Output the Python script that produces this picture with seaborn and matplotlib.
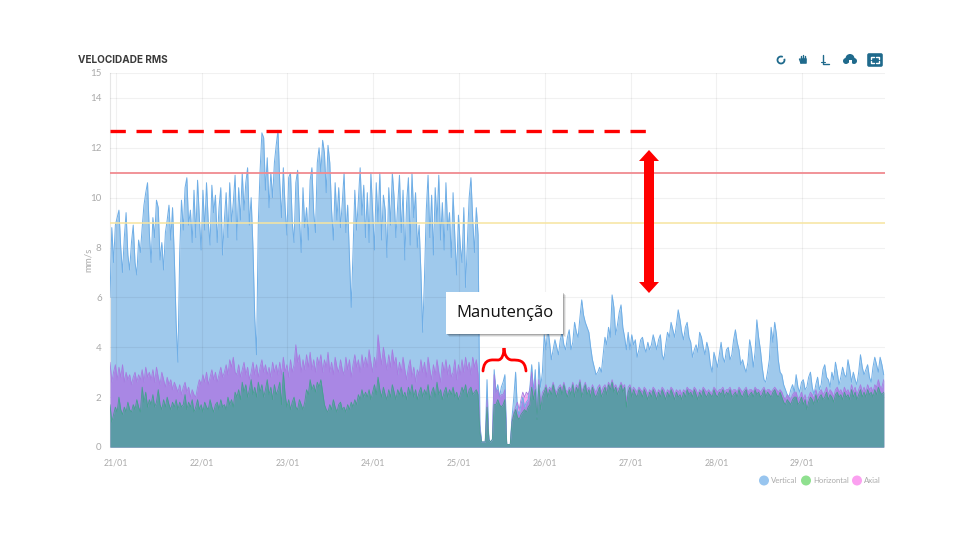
import matplotlib
matplotlib.use('Agg')
import numpy as np
import pandas as pd
import matplotlib.pyplot as plt
import seaborn as sns
from matplotlib.patches import Arc, Circle, FancyArrow, FancyBboxPatch, PathPatch, Rectangle
from matplotlib.path import Path

# half-hourly readings, four lines per day of samples
vertical = [
    6.0, 8.8, 7.4, 8.9, 9.2, 9.5, 8.0, 7.0, 8.4, 9.4, 7.7, 7.1,
    8.2, 8.9, 7.4, 6.9, 8.3, 7.8, 8.8, 9.7, 10.2, 10.6, 8.6, 7.4,
    9.2, 8.4, 9.9, 9.6, 7.5, 8.2, 7.1, 8.6, 9.1, 9.7, 8.3, 9.6,
    7.6, 5.0, 3.4, 7.8, 9.9, 8.7, 10.4, 10.8, 8.9, 9.5, 8.2, 10.3,

    8.4, 10.7, 9.2, 7.9, 10.3, 8.7, 10.6, 9.0, 8.1, 10.5, 9.4, 10.1,
    8.2, 9.6, 10.4, 7.7, 9.1, 10.2, 8.4, 10.6, 9.0, 9.8, 10.9, 8.3,
    10.4, 9.1, 11.0, 9.5, 10.6, 11.2, 8.9, 10.0, 8.0, 5.2, 3.7, 9.0,
    11.1, 12.6, 12.4, 10.3, 11.6, 9.6, 11.0, 10.0, 11.4, 12.1, 12.7, 10.6,

    9.2, 11.2, 9.6, 8.5, 10.8, 11.0, 9.0, 8.2, 10.6, 11.1, 9.2, 7.8,
    10.4, 8.8, 9.6, 8.3, 10.7, 11.2, 9.4, 8.6, 11.4, 12.0, 11.0, 12.3,
    11.8, 10.2, 12.1, 11.4, 9.5, 8.3, 10.6, 9.1, 10.4, 8.8, 9.8, 11.0,
    8.6, 9.7, 7.6, 5.6, 7.8, 10.3, 8.7, 9.9, 11.2, 9.3, 10.5, 8.4,

    10.2, 8.2, 11.0, 9.4, 7.9, 10.6, 9.0, 11.0, 8.3, 10.1, 9.5, 7.6,
    10.4, 8.9, 11.0, 10.0, 8.4, 9.7, 10.9, 8.6, 10.3, 7.5, 9.8, 10.8,
    8.1, 11.0, 9.2, 10.2, 8.0, 8.9, 7.0, 4.6, 6.8, 9.5, 10.9, 8.4,
    10.1, 7.7, 10.4, 9.0, 10.9, 8.3, 9.8, 7.9, 10.6, 8.7, 9.4, 7.6,

    10.2, 8.4, 6.9, 9.3, 8.1, 7.4, 9.6, 6.4, 8.2, 10.0, 10.8, 9.1,
    7.8, 9.6, 8.5, 0.9, 0.2, 0.2, 0.2, 2.7, 0.3, 0.2, 0.3, 3.1,
    2.2, 2.5, 2.0, 2.4, 2.6, 2.9, 0.1, 0.1, 0.1, 1.2, 2.0, 3.0,
    1.5, 1.3, 1.7, 2.0, 1.6, 1.8, 1.9, 2.4, 3.3, 2.2, 3.1, 1.2,

    3.4, 2.4, 3.0, 4.5, 3.9, 4.8, 4.2, 3.5, 3.9, 4.3, 4.0, 3.7,
    4.3, 4.6, 4.1, 3.9, 4.4, 4.7, 3.9, 4.2, 5.0, 4.6, 4.4, 5.2,
    5.9, 5.3, 5.0, 4.8, 4.6, 4.0, 3.5, 3.2, 2.9, 3.0, 3.2, 3.0,
    3.7, 4.4, 4.1, 4.8, 4.4, 6.1, 5.6, 4.5, 4.9, 5.4, 5.7, 4.8,

    4.4, 3.9, 4.6, 3.9, 4.5, 4.1, 4.3, 3.6, 3.9, 4.3, 4.4, 4.0,
    3.8, 4.2, 3.9, 4.1, 4.5, 4.2, 3.9, 4.3, 4.5, 3.7, 3.5, 4.1,
    4.6, 4.4, 5.0, 4.7, 4.4, 4.9, 5.5, 5.1, 4.6, 4.3, 4.8, 5.0,
    4.4, 4.2, 3.6, 3.9, 4.1, 3.8, 4.6, 4.4, 4.0, 3.7, 4.2, 3.9,

    3.3, 3.0, 3.8, 3.5, 3.2, 3.7, 4.2, 3.6, 3.4, 3.9, 4.0, 3.5,
    3.7, 4.3, 4.7, 4.2, 3.9, 3.3, 3.5, 3.2, 3.0, 3.4, 4.3, 3.9,
    3.2, 3.8, 5.1, 4.4, 3.9, 3.2, 2.7, 2.6, 3.0, 3.5, 4.8, 4.2,
    5.0, 4.5, 3.5, 3.0, 2.9, 2.5, 2.3, 2.1, 2.0, 2.3, 2.5, 2.2,

    2.9, 2.4, 2.2, 2.6, 2.7, 2.3, 2.4, 2.8, 3.0, 2.4, 2.1, 2.5,
    2.8, 2.3, 2.5, 3.1, 3.3, 2.8, 2.7, 2.4, 3.0, 2.7, 3.4, 3.0,
    2.5, 2.8, 3.2, 2.9, 2.8, 3.5, 3.1, 2.6, 3.0, 2.7, 2.5, 3.0,
    3.7, 3.2, 2.9, 3.1, 3.3, 2.8, 2.6, 3.2, 3.6, 3.3, 3.0, 3.6,
    3.3, 2.9,
]
horizontal = [
    1.7, 1.0, 1.3, 1.6, 1.4, 2.0, 1.5, 1.3, 1.6, 1.4, 1.8, 1.5,
    1.4, 1.7, 1.5, 1.9, 1.6, 1.4, 2.4, 1.8, 2.2, 1.6, 1.9, 1.7,
    2.1, 1.6, 1.8, 2.3, 1.7, 1.5, 1.9, 1.6, 2.0, 1.7, 1.5, 1.8,
    1.6, 1.9, 1.5, 1.8, 1.6, 1.7, 2.1, 1.5, 1.8, 1.6, 1.9, 1.4,

    1.6, 1.9, 1.5, 1.7, 1.4, 1.8, 1.6, 1.5, 1.9, 1.6, 1.4, 1.7,
    1.8, 1.5, 1.9, 1.6, 1.7, 1.5, 2.0, 1.7, 1.9, 1.6, 2.2, 2.0,
    2.3, 1.9, 2.6, 2.2, 2.5, 2.0, 2.3, 2.7, 2.1, 2.4, 2.0, 2.6,
    2.2, 2.5, 2.0, 2.3, 2.7, 2.1, 2.4, 1.9, 2.5, 2.1, 2.3, 2.6,

    1.7, 3.0, 2.1, 1.6, 1.9, 1.5, 1.8, 2.0, 1.6, 1.5, 1.9, 1.7,
    1.5, 1.8, 2.3, 2.1, 2.7, 2.3, 2.5, 2.2, 2.6, 2.4, 2.7, 2.2,
    1.7, 1.5, 1.4, 1.7, 1.5, 1.9, 1.6, 1.4, 1.7, 1.8, 1.5, 1.6,
    1.4, 1.7, 1.5, 1.8, 1.6, 1.9, 1.7, 2.1, 1.9, 2.3, 2.0, 2.2,

    2.0, 2.3, 1.9, 2.2, 2.5, 2.1, 2.8, 2.3, 2.0, 2.4, 2.1, 1.9,
    2.3, 2.0, 2.5, 2.2, 1.9, 2.3, 2.1, 2.4, 2.0, 2.2, 1.9, 2.4,
    2.1, 2.5, 2.0, 2.3, 1.9, 2.2, 2.4, 2.0, 2.3, 2.1, 2.5, 1.9,
    2.2, 2.4, 2.0, 2.6, 2.1, 2.3, 1.9, 2.2, 2.4, 2.0, 2.3, 2.1,

    2.4, 2.0, 2.2, 1.9, 2.1, 2.4, 2.2, 2.5, 2.0, 2.3, 2.4, 2.1,
    2.2, 2.3, 2.1, 0.6, 0.2, 0.2, 0.2, 1.6, 0.3, 0.2, 0.3, 1.7,
    1.7, 1.9, 1.7, 1.6, 1.7, 1.9, 0.1, 0.1, 0.1, 1.0, 1.3, 1.5,
    1.2, 1.1, 1.3, 1.4, 1.5, 1.4, 1.6, 1.7, 2.4, 1.9, 2.3, 1.1,

    2.5, 1.5, 2.0, 2.2, 2.4, 2.0, 2.3, 2.1, 2.5, 2.2, 2.0, 2.3,
    2.4, 2.1, 2.5, 2.2, 2.0, 2.3, 2.1, 2.5, 2.0, 2.4, 2.2, 2.6,
    2.0, 2.3, 2.5, 2.1, 2.3, 2.0, 2.4, 2.1, 2.0, 2.2, 2.4, 2.0,
    2.2, 2.4, 2.1, 2.5, 2.3, 2.6, 2.2, 2.4, 2.1, 2.3, 2.5, 2.2,

    2.4, 1.6, 2.2, 2.4, 2.0, 2.3, 2.1, 2.0, 2.3, 2.2, 2.0, 2.3,
    2.1, 1.9, 2.2, 2.0, 2.3, 2.1, 1.9, 2.2, 2.0, 2.3, 2.1, 1.9,
    2.2, 2.0, 2.3, 2.1, 1.9, 2.2, 2.0, 2.1, 1.9, 2.2, 2.0, 2.3,
    2.1, 2.2, 2.0, 2.3, 2.1, 1.9, 2.2, 2.0, 2.3, 2.1, 2.0, 2.2,

    2.1, 2.0, 2.3, 2.1, 2.0, 2.2, 2.1, 2.3, 2.0, 2.2, 2.1, 2.3,
    2.0, 2.1, 2.2, 2.0, 2.3, 2.1, 2.0, 2.2, 2.3, 2.0, 2.1, 2.2,
    2.0, 2.3, 2.1, 2.2, 2.0, 2.1, 2.3, 2.0, 2.2, 2.1, 2.0, 2.2,
    2.3, 2.1, 2.0, 2.2, 2.0, 1.8, 1.7, 1.9, 1.8, 1.7, 1.9, 2.0,

    2.0, 1.7, 1.8, 2.0, 1.7, 1.9, 1.5, 1.8, 2.0, 1.9, 1.7, 2.1,
    1.8, 2.0, 2.1, 1.9, 2.0, 2.2, 1.9, 2.1, 2.0, 1.8, 2.1, 2.2,
    2.0, 2.1, 1.9, 2.2, 2.0, 2.1, 1.9, 2.3, 2.0, 2.2, 1.9, 2.1,
    2.3, 2.0, 2.2, 2.0, 2.3, 2.1, 2.2, 2.0, 2.3, 2.1, 2.4, 2.2,
    2.1, 2.2,
]
axial = [
    3.4, 2.6, 3.0, 3.3, 2.7, 3.2, 2.8, 3.3, 2.6, 3.0, 2.7, 2.9,
    2.5, 2.8, 3.0, 2.6, 2.9, 2.7, 3.1, 2.6, 3.2, 2.8, 3.0, 2.7,
    3.1, 2.6, 3.2, 2.8, 2.5, 3.0, 2.7, 2.4, 2.8, 2.5, 2.7, 2.3,
    2.6, 2.4, 2.2, 2.5, 2.1, 2.4, 2.6, 2.2, 2.4, 2.0, 2.3, 2.1,

    2.0, 2.4, 2.7, 2.5, 2.9, 2.6, 3.0, 2.5, 2.8, 3.1, 2.7, 3.0,
    2.6, 2.9, 3.2, 2.8, 3.0, 3.3, 2.9, 3.5, 3.2, 3.6, 3.0, 2.9,
    3.3, 2.8, 3.1, 3.4, 2.9, 3.2, 2.7, 3.0, 3.4, 2.9, 3.3, 2.8,
    3.2, 3.5, 3.0, 3.3, 2.9, 3.2, 2.8, 3.4, 3.0, 3.3, 2.9, 3.4,

    2.9, 3.6, 3.0, 3.3, 2.8, 3.5, 3.0, 3.3, 4.1, 3.4, 3.7, 3.0,
    3.5, 3.1, 3.7, 3.2, 3.8, 3.1, 3.5, 3.0, 3.6, 3.3, 3.7, 3.0,
    3.5, 3.2, 3.8, 3.0, 3.4, 2.9, 3.6, 3.2, 3.0, 3.5, 3.1, 2.9,
    3.6, 3.1, 3.5, 2.8, 3.3, 3.7, 3.2, 3.5, 3.0, 3.7, 3.2, 3.6,

    3.2, 3.9, 3.4, 3.0, 3.6, 3.2, 4.5, 3.8, 3.3, 4.0, 3.5, 3.1,
    3.7, 3.2, 3.9, 3.3, 3.6, 2.9, 3.4, 3.0, 3.6, 3.1, 2.7, 3.2,
    3.5, 2.8, 3.2, 2.6, 3.1, 2.9, 3.5, 3.0, 3.4, 2.8, 3.6, 3.1,
    2.7, 3.3, 2.9, 3.5, 3.0, 2.6, 3.4, 3.0, 3.5, 2.9, 3.3, 2.8,

    3.0, 3.5, 2.7, 3.3, 2.9, 3.5, 3.0, 3.6, 3.1, 3.4, 2.9, 3.6,
    3.2, 3.5, 2.9, 0.7, 0.2, 0.2, 0.2, 1.9, 0.3, 0.2, 0.3, 2.9,
    2.2, 2.3, 2.0, 2.1, 2.1, 2.3, 0.1, 0.1, 0.1, 1.1, 1.4, 1.6,
    1.8, 1.5, 1.9, 2.2, 2.0, 2.2, 2.1, 2.3, 3.0, 2.0, 2.7, 1.2,

    2.7, 1.7, 2.2, 2.3, 2.5, 2.2, 2.4, 2.3, 2.6, 2.3, 2.2, 2.4,
    2.5, 2.3, 2.6, 2.3, 2.2, 2.4, 2.3, 2.6, 2.2, 2.5, 2.4, 2.7,
    2.2, 2.4, 2.6, 2.3, 2.4, 2.2, 2.5, 2.3, 2.2, 2.4, 2.5, 2.2,
    2.4, 2.5, 2.3, 2.6, 2.4, 2.7, 2.4, 2.5, 2.3, 2.4, 2.6, 2.4,

    2.5, 1.8, 2.4, 2.5, 2.2, 2.4, 2.3, 2.2, 2.4, 2.3, 2.2, 2.4,
    2.3, 2.1, 2.3, 2.2, 2.4, 2.3, 2.1, 2.3, 2.2, 2.4, 2.3, 2.1,
    2.3, 2.2, 2.4, 2.3, 2.1, 2.3, 2.2, 2.3, 2.1, 2.3, 2.2, 2.4,
    2.3, 2.3, 2.2, 2.4, 2.3, 2.1, 2.3, 2.2, 2.4, 2.3, 2.2, 2.3,

    2.2, 2.2, 2.4, 2.3, 2.2, 2.3, 2.3, 2.4, 2.2, 2.3, 2.3, 2.4,
    2.2, 2.3, 2.3, 2.2, 2.4, 2.3, 2.2, 2.3, 2.4, 2.2, 2.3, 2.3,
    2.2, 2.4, 2.3, 2.3, 2.2, 2.3, 2.4, 2.2, 2.3, 2.3, 2.2, 2.3,
    2.4, 2.3, 2.2, 2.3, 2.2, 2.0, 1.9, 2.1, 2.0, 1.9, 2.1, 2.2,

    2.2, 1.9, 2.0, 2.2, 1.9, 2.1, 1.7, 2.0, 2.2, 2.1, 1.9, 2.3,
    2.0, 2.2, 2.3, 2.1, 2.2, 2.4, 2.1, 2.3, 2.2, 2.0, 2.3, 2.4,
    2.2, 2.3, 2.1, 2.4, 2.2, 2.3, 2.1, 2.5, 2.2, 2.4, 2.1, 2.3,
    2.5, 2.2, 2.4, 2.2, 2.5, 2.3, 2.4, 2.2, 2.5, 2.4, 2.7, 2.4,
    2.4, 2.7,
]
day_labels = ['21/01', '22/01', '23/01', '24/01', '25/01', '26/01', '27/01', '28/01', '29/01']
y_ticks = [0, 2, 4, 6, 8, 10, 12, 14, 15]
limit_alert = 9
limit_danger = 11
target_before = 12.67
legend_names = ['Vertical', 'Horizontal', 'Axial']

sns.set_style('white')
plt.rcParams['font.family'] = ['Lato', 'DejaVu Sans']

# samples start a bit before midnight of the first labelled day
times = pd.date_range('2021-01-20 22:20', periods=len(vertical), freq='30min')
days = pd.date_range('2021-01-21', periods=len(day_labels), freq='D')
v = np.array(vertical)
h = np.array(horizontal)
a = np.array(axial)

fig = plt.figure(figsize=(9.6, 5.4), dpi=100)
ax = fig.add_axes([110 / 960, 1 - 447 / 540, 775 / 960, 374 / 540])

# fake the see-through stacking of the original with solid layers
ax.fill_between(times, a, color='#F6A6EE', lw=0, zorder=1)
ax.fill_between(times, v, color='#9FC9EC', lw=0, zorder=2)
ax.fill_between(times, h, color='#8FDC9E', lw=0, zorder=3)
ax.fill_between(times, np.minimum(a, v), color='#A987E4', lw=0, zorder=4)
ax.fill_between(times, np.minimum(h, np.maximum(a, v)), color='#5B9BA6', lw=0, zorder=5)

sns.lineplot(x=times, y=v, ax=ax, color='#6FAEE6', lw=0.7, estimator=None, zorder=6)
sns.lineplot(x=times, y=a, ax=ax, color='#A67CE0', lw=0.6, estimator=None, zorder=6)
sns.lineplot(x=times, y=h, ax=ax, color='#45A08F', lw=0.6, estimator=None, zorder=7)

ax.axhline(limit_alert, color='#F7E5A0', lw=1.3, alpha=0.85, zorder=8)
ax.axhline(limit_danger, color='#F08A90', lw=1.3, zorder=8)

ax.set_ylim(0, 15)
ax.set_xlim(pd.Timestamp('2021-01-20 22:20'), pd.Timestamp('2021-01-29 23:12'))
ax.set_yticks(y_ticks)
ax.set_xticks(days)
ax.set_xticklabels(day_labels)
ax.tick_params(axis='x', length=0, labelsize=6.3, labelcolor='#aaaaaa', pad=8)
ax.tick_params(axis='y', length=0, labelsize=7, labelcolor='#aaaaaa', pad=6)
ax.grid(True, color='#000000', alpha=0.055, lw=0.8, zorder=9)
ax.set_axisbelow(False)
for name in ['top', 'right', 'bottom']:
    ax.spines[name].set_visible(False)
ax.spines['left'].set_color('#e6e6e6')
ax.set_xlabel('')
ax.set_ylabel('mm/s', fontsize=7, color='#aaaaaa', labelpad=-2)

# overlay in pixel coordinates for the slide annotations and chrome
ov = fig.add_axes([0, 0, 1, 1], facecolor='none')
ov.set_xlim(0, 960)
ov.set_ylim(540, 0)
ov.axis('off')

ov.text(78, 60, 'VELOCIDADE RMS', fontsize=7.2, fontweight='bold', color='#3a3a3a',
        family=['Inter', 'DejaVu Sans'], va='center')

# dashed target line
ax.plot([times[0], pd.Timestamp('2021-01-27 04:50')], [target_before, target_before],
        color='#ff0000', lw=2.4, dashes=(4.6, 3.2), dash_capstyle='butt', zorder=10, clip_on=False)

# double arrow
ov.add_patch(FancyArrow(649, 221, 0, -71, width=10, head_width=20, head_length=11,
                        length_includes_head=True, color='#ff0000', lw=0))
ov.add_patch(FancyArrow(649, 221, 0, 72, width=10, head_width=20, head_length=11,
                        length_includes_head=True, color='#ff0000', lw=0))

# label box with soft shadow
for off, al in [(3, 0.08), (2, 0.12), (1, 0.18)]:
    ov.add_patch(Rectangle((446 + off, 292 + off), 117, 42, color='#000000', alpha=al, lw=0))
ov.add_patch(Rectangle((446, 292), 117, 42, color='white', lw=0))
ov.text(504.5, 313, 'Manutenção', fontsize=12, family=['Open Sans', 'DejaVu Sans'],
        color='#111111', ha='center', va='center')

# brace over the maintenance window
brace = Path([(483, 371), (484, 358), (492, 360), (498, 360), (502, 360), (504, 354), (504, 348),
              (504, 354), (507, 360), (512, 360), (519, 360), (525, 360), (526, 371)],
             [Path.MOVETO, Path.CURVE4, Path.CURVE4, Path.CURVE4, Path.CURVE4, Path.CURVE4, Path.CURVE4,
              Path.CURVE4, Path.CURVE4, Path.CURVE4, Path.CURVE4, Path.CURVE4, Path.CURVE4])
ov.add_patch(PathPatch(brace, fc='none', ec='#ff0000', lw=2.0, capstyle='round'))

# toolbar icons
icon = '#1f6a8c'
ov.add_patch(Arc((781, 60), 7, 7, theta1=-20, theta2=300, ec=icon, lw=1.3))
ov.add_patch(FancyBboxPatch((801, 59), 5, 4, boxstyle='round,pad=0.8', fc=icon, ec=icon, lw=0))
ov.plot([801, 801], [56, 60], color=icon, lw=1)
ov.plot([803, 803], [54.5, 60], color=icon, lw=1)
ov.plot([805, 805], [55.5, 60], color=icon, lw=1)
ov.plot([799.5, 801], [59, 63], color=icon, lw=1)
ov.plot([823, 823, 829], [55, 64, 64], color=icon, lw=1)
ov.plot([821, 825], [62, 62], color=icon, lw=0.8)
ov.add_patch(Circle((850, 58.5), 4.5, color=icon, lw=0))
ov.add_patch(Circle((846, 61), 3, color=icon, lw=0))
ov.add_patch(Circle((854, 61), 3, color=icon, lw=0))
ov.add_patch(Rectangle((848.5, 60), 3, 3, color='white', lw=0))
ov.add_patch(FancyBboxPatch((869, 55), 12, 10, boxstyle='round,pad=1.8', fc=icon, ec=icon, lw=0))
ov.plot([871, 871, 874], [59, 57, 57], color='white', lw=1)
ov.plot([876, 879, 879], [57, 57, 59], color='white', lw=1)
ov.plot([871, 871, 874], [61, 63, 63], color='white', lw=1)
ov.plot([876, 879, 879], [63, 63, 61], color='white', lw=1)

# legend
legend_colors = ['#98C5EF', '#8FE08F', '#FBA0F0']
legend_dots = [764, 806, 857]
legend_text = [771, 813, 864]
for name, col, dot, tx in zip(legend_names, legend_colors, legend_dots, legend_text):
    ov.add_patch(Circle((dot, 480.5), 5, color=col, lw=0))
    ov.text(tx, 480.5, name, fontsize=5.6, color='#aaaaaa', va='center')

ov.set_xlim(0, 960)
ov.set_ylim(540, 0)

fig.savefig('out.png', dpi=100)
